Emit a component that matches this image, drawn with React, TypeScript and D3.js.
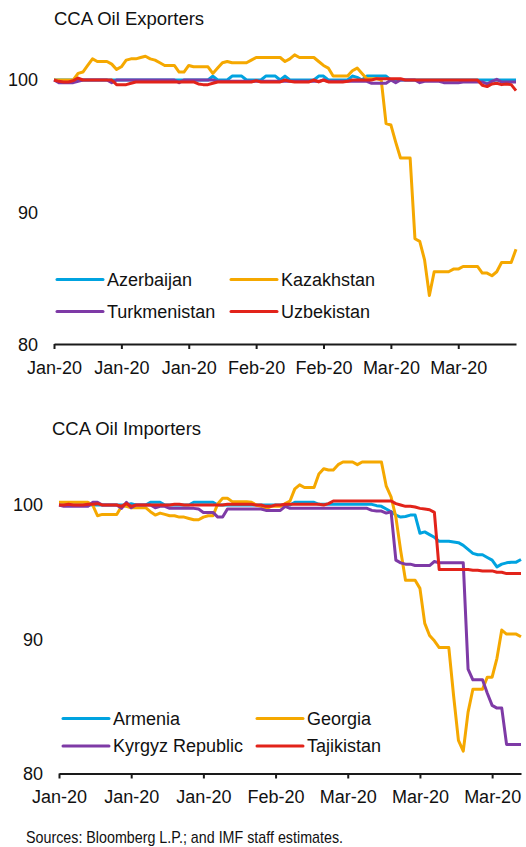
import React, { useRef, useEffect } from 'react';
import * as d3 from 'd3';

const W = 526;
const H = 847;
const FONT = '"Liberation Sans", Arial, Helvetica, sans-serif';

// daily observations, 1 Jan 2020 .. 6 Apr 2020 (index = day)
const parseDay = d3.timeParse('%Y-%m-%d');
const days = d3.timeDay.range(parseDay('2020-01-01'), parseDay('2020-04-07'));

const colors = ['#00A3E0', '#F5A800', '#7E3AA6', '#E2231A'];

// ---- CCA oil exporters (index, 1 Jan = 100)
const exporterNames = ['Azerbaijan', 'Kazakhstan', 'Turkmenistan', 'Uzbekistan'];
const azerbaijan = [
  100, 100, 100, 100, 100, 100, 100, 100, 100, 100,
  100, 100, 100, 100, 100, 100, 100, 100, 100, 100,
  100, 100, 100, 100, 100, 100, 100, 100, 100, 100,
  100, 100, 100, 100.3, 100, 100, 100, 100.3, 100.3, 100.3,
  100, 100, 100, 100, 100.3, 100.3, 100.3, 100, 100.3, 100,
  100, 100, 100, 100, 100, 100.3, 100.3, 100, 100, 100,
  100, 100, 100.3, 100.2, 100, 100.3, 100.3, 100.3, 100.3, 100.3,
  100, 100, 100, 100, 100, 100, 100, 100, 100, 100,
  100, 100, 100, 100, 100, 100, 100, 100, 100, 100,
  100, 100, 100, 100, 100, 100, 100,
];
const kazakhstan = [
  100, 100, 100, 100, 100, 100.5, 100.6, 101.1, 101.6, 101.4,
  101.4, 101.4, 101.2, 100.8, 101.0, 101.5, 101.6, 101.6, 101.7, 101.8,
  101.6, 101.5, 101.3, 101.1, 101.1, 101.1, 100.6, 100.6, 101.1, 101.0,
  101.0, 101.0, 101.0, 100.5, 100.9, 101.3, 101.4, 101.3, 101.3, 101.3,
  101.3, 101.5, 101.7, 101.7, 101.7, 101.7, 101.7, 101.7, 101.4, 101.6,
  101.9, 101.7, 101.7, 101.7, 101.7, 101.4, 101.1, 100.9, 100.3, 100.3,
  100.3, 100.3, 100.7, 100.9, 100.5, 100.1, 100.1, 100.1, 100.0, 96.7,
  96.6, 95.3, 94.1, 94.1, 94.1, 88.0, 87.8, 86.4, 83.7, 85.5,
  85.5, 85.5, 85.5, 85.7, 85.7, 85.9, 85.9, 85.9, 85.9, 85.4,
  85.4, 85.2, 85.5, 86.2, 86.2, 86.2, 87.2,
];
const turkmenistan = [
  100, 99.8, 99.8, 99.8, 99.8, 99.9, 100, 100, 100, 100,
  100, 100, 99.8, 100, 100, 100, 100, 100, 100, 100,
  100, 100, 100, 100, 100, 100, 99.8, 100, 100, 100,
  100, 100, 100, 100, 99.9, 99.9, 99.9, 99.9, 99.9, 99.9,
  99.9, 99.9, 99.9, 99.9, 99.9, 99.9, 99.9, 99.9, 99.9, 99.9,
  99.9, 99.9, 99.9, 99.9, 99.9, 99.9, 100, 99.9, 99.9, 99.9,
  99.9, 99.9, 99.9, 99.9, 99.9, 99.9, 99.75, 99.75, 99.75, 99.75,
  100, 99.8, 100, 100, 100, 100, 99.8, 99.9, 99.9, 99.9,
  99.9, 99.8, 99.8, 99.8, 99.8, 99.85, 99.85, 99.85, 99.85, 99.85,
  99.7, 99.9, 100.05, 99.85, 99.85, 99.85, 99.85,
];
const uzbekistan = [
  100, 99.9, 99.85, 99.85, 99.95, 100.15, 100, 100, 100, 100,
  100, 100, 100, 99.65, 99.65, 99.65, 99.75, 99.85, 99.85, 99.85,
  99.85, 99.85, 99.85, 99.85, 99.85, 99.85, 99.85, 99.85, 99.85, 99.85,
  99.7, 99.65, 99.65, 99.75, 99.85, 99.85, 99.85, 99.85, 99.85, 99.85,
  99.85, 99.85, 99.95, 99.85, 99.85, 99.85, 99.85, 99.85, 100, 99.9,
  99.85, 99.85, 99.85, 99.85, 100, 99.85, 100, 99.85, 99.85, 99.85,
  99.85, 99.9, 100, 100, 100, 100, 100, 100.1, 100.1, 100.1,
  100.1, 100.1, 100.1, 100, 100, 100, 100, 100, 100, 100,
  100, 100, 100, 100, 100, 100, 100, 100, 100, 99.6,
  99.5, 99.7, 99.75, 99.65, 99.7, 99.65, 99.2,
];
const exporterTickDates = ['2020-01-01', '2020-01-15', '2020-01-29', '2020-02-12', '2020-02-26', '2020-03-11', '2020-03-25'];
const exporterTickLabels = ['Jan-20', 'Jan-20', 'Jan-20', 'Feb-20', 'Feb-20', 'Mar-20', 'Mar-20'];

// ---- CCA oil importers
const importerNames = ['Armenia', 'Georgia', 'Kyrgyz Republic', 'Tajikistan'];
const armenia = [
  100, 100, 100, 100, 100, 100, 100, 100, 100, 100,
  100, 100, 100, 100, 100, 100.1, 100, 100, 100, 100.2,
  100.2, 100.2, 100, 100, 100, 100, 100, 100, 100.2, 100.2,
  100.2, 100.2, 100.2, 100, 100, 100, 100, 100, 100, 100,
  100, 100, 100, 100, 100, 100, 100, 100, 100, 100.2,
  100.2, 100.2, 100.2, 100.2, 100.05, 100.05, 100.05, 100.05, 100.05, 100.05,
  100.05, 100.05, 100.05, 100.05, 100.05, 100.05, 99.95, 99.9, 99.7, 99.5,
  99.25, 99.1, 99.15, 99.25, 99.25, 97.9, 98.0, 97.8, 97.6, 97.3,
  97.3, 97.3, 97.25, 97.2, 97.0, 96.7, 96.4, 96.3, 96.3, 96.1,
  95.9, 95.4, 95.6, 95.7, 95.75, 95.75, 95.95,
];
const georgia = [
  100.2, 100.2, 100.2, 100.2, 100.2, 100.2, 100.2, 100.0, 99.2, 99.3,
  99.3, 99.3, 99.3, 99.9, 99.9, 99.8, 99.8, 99.8, 99.8, 99.5,
  99.25, 99.4, 99.3, 99.2, 99.2, 99.1, 99.1, 99.0, 98.9, 98.9,
  99.1, 99.2, 99.2, 100.1, 100.5, 100.5, 100.25, 100.25, 100.25, 100.25,
  100.2, 100.0, 99.9, 99.7, 99.9, 99.9, 99.9, 100.1, 100.3, 101.2,
  101.5, 101.3, 101.3, 101.3, 102.3, 102.7, 102.6, 102.6, 103.0, 103.2,
  103.2, 103.2, 103.0, 103.2, 103.2, 103.2, 103.2, 103.2, 101.4, 100.6,
  99.1, 96.6, 94.4, 94.4, 94.4, 93.8, 91.2, 90.3, 89.9, 89.4,
  89.4, 89.4, 85.8, 82.5, 81.7, 84.6, 86.3, 86.3, 86.3, 87.2,
  87.2, 88.6, 90.7, 90.4, 90.4, 90.4, 90.2,
];
const kyrgyz = [
  100, 99.9, 99.9, 99.9, 99.9, 99.9, 99.9, 100.2, 100.2, 100,
  100, 100, 100, 99.75, 100.2, 99.8, 100, 100, 100, 100,
  99.8, 99.9, 99.9, 99.75, 99.75, 99.75, 99.75, 99.75, 99.75, 99.7,
  99.45, 99.45, 99.45, 99.1, 99.1, 99.7, 99.7, 99.7, 99.7, 99.7,
  99.7, 99.7, 99.7, 99.6, 99.6, 99.6, 99.6, 99.9, 99.75, 99.75,
  99.75, 99.75, 99.75, 99.75, 99.75, 99.75, 99.75, 99.75, 99.75, 99.75,
  99.75, 99.75, 99.75, 99.75, 99.75, 99.6, 99.55, 99.55, 99.4, 99.5,
  95.9, 95.7, 95.6, 95.6, 95.5, 95.5, 95.5, 95.5, 95.8, 95.7,
  95.7, 95.7, 95.7, 95.7, 95.7, 87.8, 87.0, 87.0, 87.0, 86.0,
  85.1, 84.9, 84.9, 82.2, 82.2, 82.2, 82.2,
];
const tajikistan = [
  100, 100, 100.05, 100, 100, 100, 100.05, 100.05, 100.1, 100,
  100, 100, 100, 99.9, 100.1, 99.9, 100, 100, 100, 100,
  100, 100, 100, 100, 100.05, 100.05, 100, 100, 100, 100,
  100, 100, 100, 100, 100, 100.05, 100.05, 100.05, 100.05, 100.05,
  100.05, 100, 100, 99.9, 99.9, 100, 100, 100.05, 100.05, 100.05,
  100.05, 100.05, 100.05, 100.05, 100.05, 100, 100.1, 100.3, 100.3, 100.3,
  100.3, 100.3, 100.3, 100.3, 100.3, 100.3, 100.3, 100.3, 100.3, 100.3,
  100.1, 100.0, 99.9, 99.9, 99.85, 99.75, 99.7, 99.65, 99.45, 95.2,
  95.2, 95.2, 95.2, 95.2, 95.2, 95.2, 95.15, 95.15, 95.1, 95.1,
  95.1, 95.0, 95.0, 94.9, 94.9, 94.9, 94.9,
];
const importerTickDates = ['2020-01-01', '2020-01-16', '2020-01-31', '2020-02-15', '2020-03-01', '2020-03-16', '2020-03-31'];
const importerTickLabels = ['Jan-20', 'Jan-20', 'Jan-20', 'Feb-20', 'Mar-20', 'Mar-20', 'Mar-20'];

const yTicks = [80, 90, 100];

const panels = [
  {
    title: 'CCA Oil Exporters',
    titlePos: [54, 25],
    names: exporterNames,
    series: [azerbaijan, kazakhstan, turkmenistan, uzbekistan],
    tickDates: exporterTickDates,
    tickLabels: exporterTickLabels,
    xRange: [54, 516],
    yRange: [344.5, 80],
    legendX: [57, 231],
    legendY: [279.5, 311.5],
  },
  {
    title: 'CCA Oil Importers',
    titlePos: [52, 435],
    names: importerNames,
    series: [armenia, georgia, kyrgyz, tajikistan],
    tickDates: importerTickDates,
    tickLabels: importerTickLabels,
    xRange: [59, 521],
    yRange: [774, 505],
    legendX: [63, 257],
    legendY: [718.5, 746],
  },
];

const Panel = ({ cfg }) => {
  const xAxisRef = useRef(null);
  const yAxisRef = useRef(null);

  const x = d3.scaleTime().domain([days[0], days[days.length - 1]]).range(cfg.xRange);
  const y = d3.scaleLinear().domain([80, 100]).range(cfg.yRange);
  const line = d3.line<number>()
    .x((d, i) => x(days[i]))
    .y(d => y(d));

  useEffect(() => {
    const gx = d3.select(xAxisRef.current);
    gx.call(
      d3.axisBottom(x)
        .tickValues(cfg.tickDates.map(parseDay))
        .tickFormat((d, i) => cfg.tickLabels[i])
        .tickSize(5)
        .tickSizeOuter(0)
        .tickPadding(12)
    );
    gx.select('.domain').attr('stroke', '#1a1a1a').attr('stroke-width', 2);
    gx.selectAll('.tick line').attr('stroke', '#1a1a1a').attr('stroke-width', 2);
    gx.selectAll('.tick text')
      .attr('fill', '#111')
      .style('font-family', FONT)
      .style('font-size', '18px');

    const gy = d3.select(yAxisRef.current);
    gy.call(d3.axisLeft(y).tickValues(yTicks).tickSize(0).tickPadding(16));
    gy.select('.domain').remove();
    gy.selectAll('.tick text')
      .attr('fill', '#111')
      .style('font-family', FONT)
      .style('font-size', '18px');
  }, [cfg]);

  return (
    <g>
      <text x={cfg.titlePos[0]} y={cfg.titlePos[1]} fontFamily={FONT} fontSize={18.5} fill="#111">
        {cfg.title}
      </text>
      <g ref={yAxisRef} transform={`translate(${cfg.xRange[0]},0)`} />
      <g ref={xAxisRef} transform={`translate(0,${cfg.yRange[0] - 0.5})`} />
      {cfg.series.map((s, k) => (
        <path
          key={cfg.names[k]}
          d={line(s)}
          fill="none"
          stroke={colors[k]}
          strokeWidth={3}
          strokeLinejoin="round"
        />
      ))}
      {cfg.names.map((name, k) => {
        const lx = cfg.legendX[k % 2];
        const ly = cfg.legendY[Math.floor(k / 2)];
        return (
          <g key={name}>
            <line x1={lx} x2={lx + 46} y1={ly} y2={ly} stroke={colors[k]} strokeWidth={3} strokeLinecap="round" />
            <text x={lx + 50} y={ly} dy="0.35em" fontFamily={FONT} fontSize={18} fill="#111">
              {name}
            </text>
          </g>
        );
      })}
    </g>
  );
};

export default function App() {
  return (
    <svg
      width={W}
      height={H}
      style={{ position: 'absolute', left: 0, top: 0, background: '#fff' }}
    >
      {panels.map(p => (
        <Panel key={p.title} cfg={p} />
      ))}
      <text
        x={26}
        y={842.5}
        fontFamily={FONT}
        fontSize={17}
        fill="#111"
        textLength={317}
        lengthAdjust="spacingAndGlyphs"
      >
        Sources: Bloomberg L.P.; and IMF staff estimates.
      </text>
    </svg>
  );
}
